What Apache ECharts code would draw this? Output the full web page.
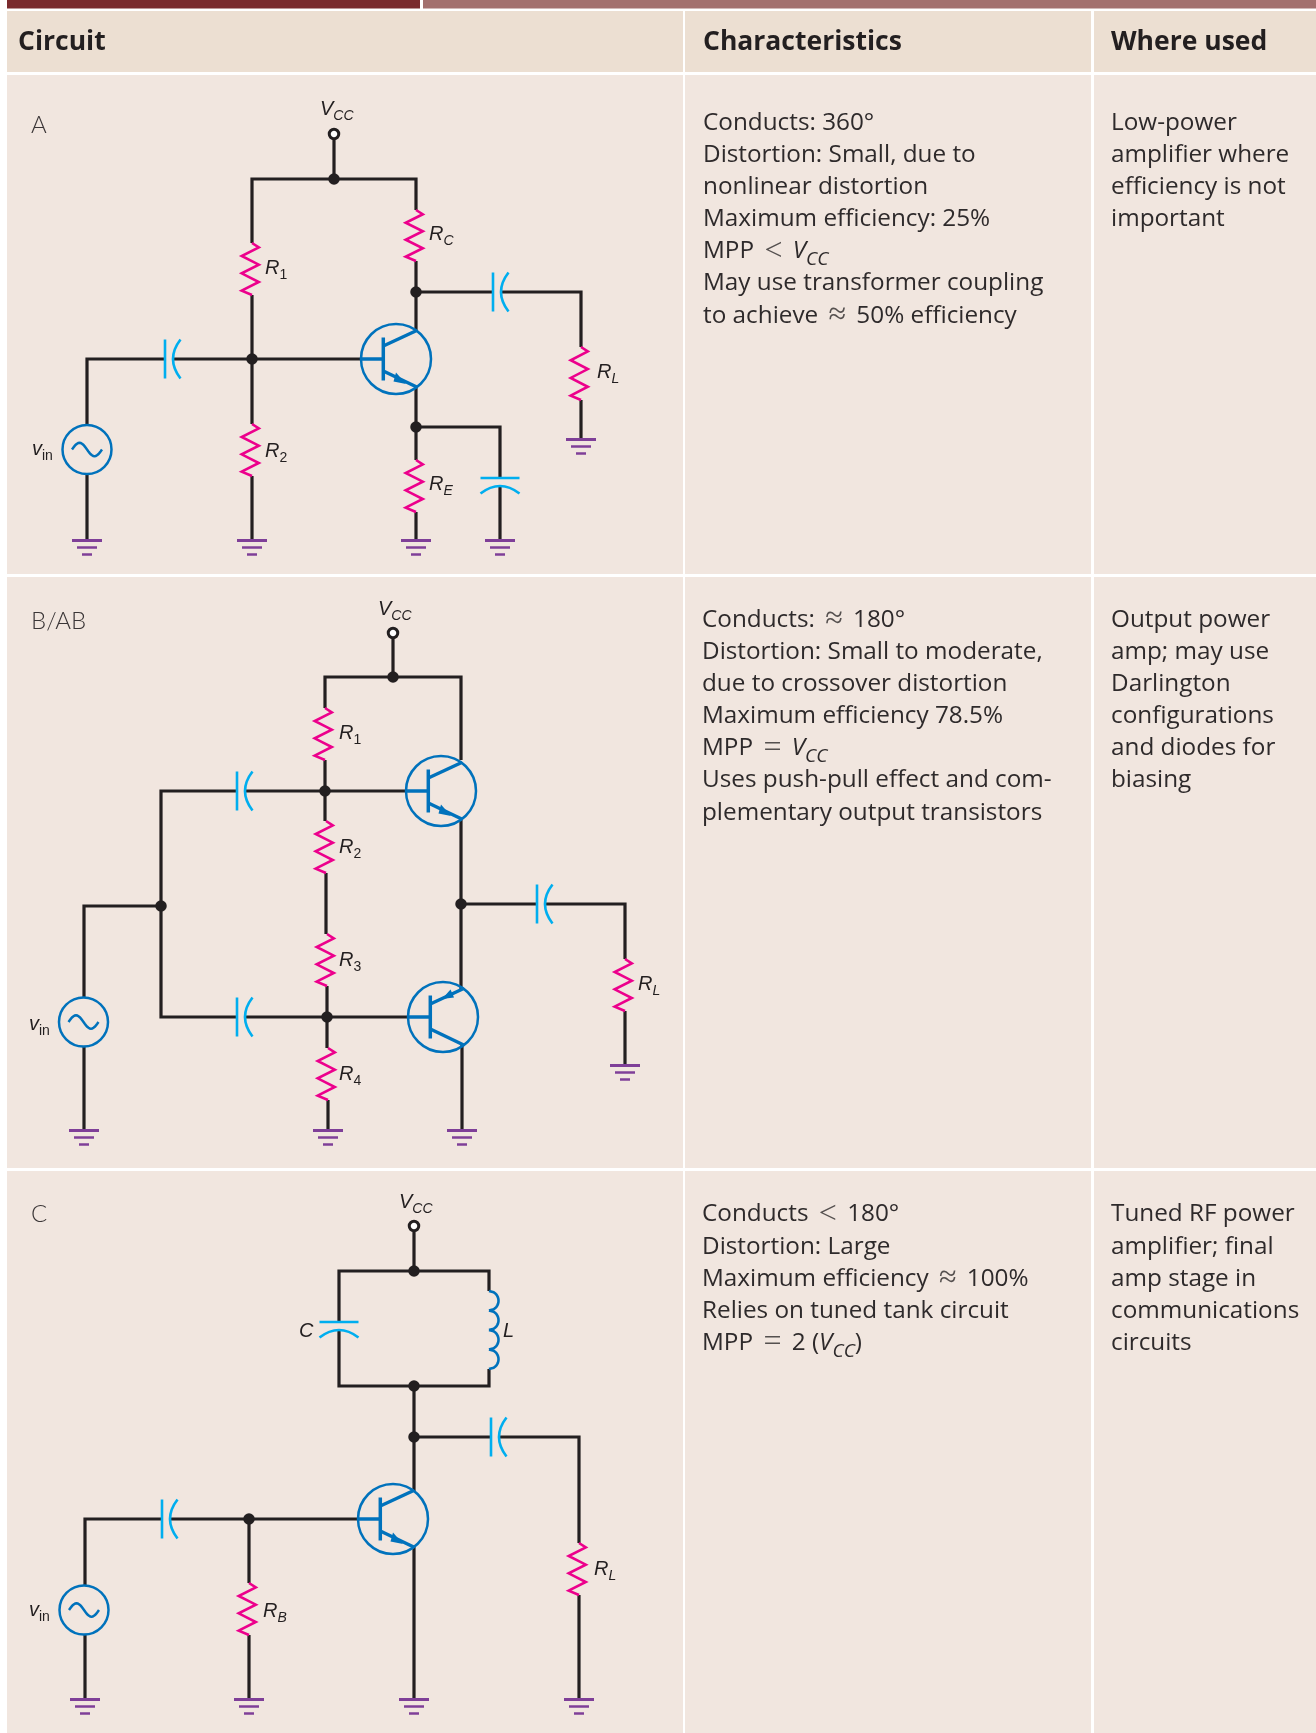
<!DOCTYPE html>
<html>
<head>
<meta charset="utf-8">
<title>Amplifier classes</title>
<script src="https://cdn.jsdelivr.net/npm/echarts@6/dist/echarts.min.js"></script>
<style>
html,body{margin:0;padding:0;background:#fff;}
#main{width:1316px;height:1733px;}
</style>
</head>
<body>
<div id="main"></div>
<script>
// table cells: x0,y0,x1,y1
var barCells = [[7,0,420,8.5],[423,0,1316,8.5]];
var headerCells = [[7,11,683,72],[685,11,1091,72],[1094,11,1316,72]];
var bodyCells = [
    [7,75,683,574],[685,75,1091,574],[1094,75,1316,574],
    [7,577,683,1168],[685,577,1091,1168],[1094,577,1316,1168],
    [7,1171,683,1733],[685,1171,1091,1733],[1094,1171,1316,1733]
];

// table text
var headers = [['Circuit',18,42.5],['Characteristics',703,42.5],['Where used',1111,42.5]];
var classes = [['A',31,125],['B/AB',31,621],['C',31,1214]];
var charA = ['Conducts: 360°','Distortion: Small, due to','nonlinear distortion','Maximum efficiency: 25%','MPP {m|<} {i|V}{s|CC}','May use transformer coupling','to achieve {m|≈} 50% efficiency'];
var usedA = ['Low-power','amplifier where','efficiency is not','important'];
var charB = ['Conducts: {m|≈} 180°','Distortion: Small to moderate,','due to crossover distortion','Maximum efficiency 78.5%','MPP {m|=} {i|V}{s|CC}','Uses push-pull effect and com-','plementary output transistors'];
var usedB = ['Output power','amp; may use','Darlington','configurations','and diodes for','biasing'];
var charC = ['Conducts {m|<} 180°','Distortion: Large','Maximum efficiency {m|≈} 100%','Relies on tuned tank circuit','MPP {m|=} 2 ({i|V}{s|CC})'];
var usedC = ['Tuned RF power','amplifier; final','amp stage in','communications','circuits'];

// circuit labels
var partLabels = [
    ['{r|V}{u|CC}',320,109.5],['{r|R}{n|1}',265,268],['{r|R}{u|C}',429,234],['{r|R}{u|L}',597,372.5],['{r|R}{n|2}',265,451],['{r|R}{u|E}',429,484.5],['{r|v}{n|in}',32,449],
    ['{r|V}{u|CC}',378,609],['{r|R}{n|1}',339,733],['{r|R}{n|2}',339,847],['{r|R}{n|3}',339,960],['{r|R}{n|4}',339,1074],['{r|R}{u|L}',638,984],['{r|v}{n|in}',29,1024],
    ['{r|V}{u|CC}',399,1202],['{r|C}',299,1331],['{r|L}',503,1331],['{r|R}{u|L}',594,1569],['{r|R}{u|B}',263,1611],['{r|v}{n|in}',29,1610]
];

// wires, each one a polyline
var wires = [
    // A
    [[334,134],[334,179]],
    [[252,243],[252,179],[416,179],[416,210]],
    [[252,295],[252,424]],[[252,476],[252,540]],
    [[416,261],[416,331]],[[416,387],[416,460]],[[416,512],[416,540]],
    [[416,292],[493,292]],[[501,292],[581,292],[581,347]],[[581,400],[581,439]],
    [[87,425],[87,359],[165,359]],[[173,359],[361,359]],[[87,474],[87,540]],
    [[416,427],[500,427],[500,478]],[[500,486],[500,540]],
    // B/AB
    [[393,638],[393,677]],
    [[325,708],[325,677],[461,677],[461,760]],
    [[325,760],[325,821]],[[326,873],[326,934]],[[327,986],[327,1048]],[[328,1100],[328,1130]],
    [[237,791],[161,791],[161,1017],[237,1017]],[[245,791],[406,791]],[[245,1017],[408,1017]],
    [[161,906],[84,906],[84,998]],[[84,1047],[84,1130]],
    [[461,820],[461,990]],[[462,1045],[462,1130]],
    [[461,904],[537,904]],[[545,904],[625,904],[625,959]],[[625,1011],[625,1065]],
    // C
    [[414,1232],[414,1271]],
    [[339,1322],[339,1271],[489,1271],[489,1291]],
    [[339,1329],[339,1386],[489,1386],[489,1369]],
    [[414,1386],[414,1491]],[[414,1547],[414,1699]],
    [[414,1437],[491,1437]],[[499,1437],[579,1437],[579,1543]],[[579,1595],[579,1699]],
    [[85,1585],[85,1519],[162,1519]],[[170,1519],[358,1519]],[[85,1634],[85,1699]],
    [[249,1519],[249,1583]],[[249,1635],[249,1699]]
];

var junctions = [
    [334,179],[416,292],[252,359],[416,427],
    [393,677],[325,791],[161,906],[461,904],[327,1017],
    [414,1271],[414,1386],[414,1437],[249,1519]
];
var terminals = [[334,134],[393,633],[414,1226]];

// x, top, bottom
var resistors = [
    [252,243,295],[416,210,261],[581,347,400],[252,424,476],[416,460,512],
    [325,708,760],[326,821,873],[327,934,986],[328,1048,1100],[625,959,1011],
    [579,1543,1595],[249,1583,1635]
];
// plate x, wire y
var capsAcross = [[165,359],[493,292],[237,791],[237,1017],[537,904],[162,1519],[491,1437]];
// wire x, plate y
var capsDown = [[500,478],[339,1322]];
// x, y of the top rail
var grounds = [[87,540],[252,540],[416,540],[500,540],[581,439],
    [84,1130],[328,1130],[462,1130],[625,1065],
    [85,1699],[249,1699],[414,1699],[579,1699]];
// centre x, centre y, npn or pnp
var transistors = [[396,359,'npn'],[441,791,'npn'],[443,1017,'pnp'],[393,1519,'npn']];
var sources = [[87,449.5],[83.5,1022],[84,1610]];
var inductors = [[489,1291,1369]];

var WIRE = '#231f20', PINK = '#ec008c', CYAN = '#00aeef', BLUE = '#0072bc', PURPLE = '#7f3f98';
var TEXT = '#2e2a2b';

function line(api, pts, color, w){
    return {type:'polyline', shape:{points:pts.map(function(p){return api.coord(p);})},
        style:{stroke:color, lineWidth:w, fill:null, lineJoin:'miter'}};
}
function curve(api, a, c, b, color, w){
    var p0 = api.coord(a), p1 = api.coord(b), cp = api.coord(c);
    return {type:'bezierCurve', shape:{x1:p0[0],y1:p0[1],x2:p1[0],y2:p1[1],cpx1:cp[0],cpy1:cp[1]},
        style:{stroke:color, lineWidth:w, fill:null}};
}
function customSeries(rows, draw){
    return {type:'custom', coordinateSystem:'cartesian2d', silent:true, clip:false,
        data:rows.map(function(r,i){return [r[0],r[1],i];}),
        renderItem:function(params, api){
            return {type:'group', children:draw(rows[params.dataIndex], api)};
        }};
}
function rectSeries(rows, color){
    return customSeries(rows, function(r, api){
        var a = api.coord([r[0],r[1]]), b = api.coord([r[2],r[3]]);
        return [{type:'rect', shape:{x:a[0],y:a[1],width:b[0]-a[0],height:b[1]-a[1]}, style:{fill:color}}];
    });
}
function textSeries(rows, labelStyle){
    return {type:'scatter', symbolSize:0, silent:true, itemStyle:{opacity:1},
        data:rows.map(function(r){return {value:[r[1],r[2]], name:r[0]};}),
        label:Object.assign({show:true, position:'right', distance:0,
            formatter:function(p){return p.name;}}, labelStyle)};
}
// stacks lines of a cell from the first line centre
function cellLines(list, x, y){
    var rows = [];
    for(var i in list){
        rows.push([list[i], x, y + i*32.1]);
    }
    return rows;
}

var bodyRows = [].concat(
    cellLines(charA,703,123), cellLines(usedA,1111,123),
    cellLines(charB,702,620), cellLines(usedB,1111,620),
    cellLines(charC,702,1214.5), cellLines(usedC,1111,1214.5)
);

var BODY_FONT = 'Open Sans';
var bodyStyle = {fontFamily:BODY_FONT, fontSize:24.3, color:TEXT,
    rich:{
        m:{fontFamily:'Liberation Serif', fontSize:32, color:'#55504f', padding:[0,4,0,4]},
        i:{fontFamily:BODY_FONT, fontStyle:'italic', fontSize:24.3, color:TEXT},
        s:{fontFamily:BODY_FONT, fontStyle:'italic', fontSize:19, color:TEXT, lineHeight:26, verticalAlign:'bottom', padding:[0,0,-2,0]}
    }};
var partStyle = {fontFamily:'Liberation Sans', fontSize:20, color:WIRE,
    rich:{
        r:{fontFamily:'Liberation Sans', fontStyle:'italic', fontSize:20, color:WIRE},
        u:{fontFamily:'Liberation Sans', fontStyle:'italic', fontSize:14, color:WIRE, lineHeight:20, verticalAlign:'bottom', padding:[0,0,-4,0]},
        n:{fontFamily:'Liberation Sans', fontSize:14, color:WIRE, lineHeight:20, verticalAlign:'bottom', padding:[0,0,-4,0]}
    }};

var series = [
    rectSeries(barCells.slice(0,1), '#7a2a2d'),
    rectSeries(barCells.slice(1), '#a3706e'),
    rectSeries(headerCells, '#ecdfd2'),
    rectSeries(bodyCells, '#f1e6df'),
    customSeries(wires, function(r, api){ return [line(api, r, WIRE, 3.2)]; }),
    customSeries(resistors, function(r, api){
        var x = r[0], t = r[1], h = r[2]-r[1], right = x+6.8, left = x-10.3;
        return [line(api, [[x,t],[right,t+h/12],[left,t+h*3/12],[right,t+h*5/12],[left,t+h*7/12],[right,t+h*9/12],[left,t+h*11/12],[x,t+h]], PINK, 2.6)];
    }),
    customSeries(capsAcross, function(r, api){
        var x = r[0], y = r[1];
        return [line(api, [[x,y-19.5],[x,y+19.5]], CYAN, 2.6),
            curve(api, [x+15.5,y-19.5], [x+0.5,y], [x+15.5,y+19.5], CYAN, 2.6)];
    }),
    customSeries(capsDown, function(r, api){
        var x = r[0], y = r[1];
        return [line(api, [[x-19.5,y],[x+19.5,y]], CYAN, 2.6),
            curve(api, [x-19.5,y+15.5], [x,y+0.5], [x+19.5,y+15.5], CYAN, 2.6)];
    }),
    customSeries(grounds, function(r, api){
        var x = r[0], y = r[1];
        return [line(api, [[x-15,y+0.5],[x+15,y+0.5]], PURPLE, 3),
            line(api, [[x-10,y+7.5],[x+10,y+7.5]], PURPLE, 2.5),
            line(api, [[x-5,y+14.5],[x+5,y+14.5]], PURPLE, 2.5)];
    }),
    customSeries(transistors, function(r, api){
        var x = r[0], y = r[1], c = api.coord([x,y]);
        var out = [{type:'circle', shape:{cx:c[0],cy:c[1],r:35}, style:{stroke:BLUE, lineWidth:2.5, fill:null}},
            line(api, [[x-35,y],[x-12.7,y]], BLUE, 3.5),
            line(api, [[x-12.7,y-21.5],[x-12.7,y+21.5]], BLUE, 3.5),
            line(api, [[x-12.7,y-13],[x+20.7,y-28.5]], BLUE, 3.5),
            line(api, [[x-12.7,y+12],[x+20.7,y+28]], BLUE, 3.5)];
        var head = r[2] == 'npn' ? [[x+10,y+25],[x,y+13.5],[x-2.5,y+22.5]] : [[x-1,y-18],[x+7.5,y-27.5],[x+11,y-19.5]];
        out.push({type:'polygon', shape:{points:head.map(function(p){return api.coord(p);})}, style:{fill:BLUE}});
        return out;
    }),
    customSeries(sources, function(r, api){
        var x = r[0], y = r[1], c = api.coord([x,y]);
        var wave = [];
        for(var i=0;i<=24;i++){
            wave.push([x-15+30*i/24, y-6.7*Math.sin(i/24*2*Math.PI)]);
        }
        return [{type:'circle', shape:{cx:c[0],cy:c[1],r:24.5}, style:{stroke:BLUE, lineWidth:2.5, fill:null}},
            line(api, wave, BLUE, 2.5)];
    }),
    customSeries(inductors, function(r, api){
        var x = r[0], t = r[1], h = r[2]-r[1], out = [];
        for(var k=0;k<4;k++){
            var bump = [];
            for(var i=0;i<=16;i++){
                var s = 2*i/16-1;
                bump.push([x+9.5*Math.sqrt(1-s*s), t+h*(k+i/16)/4]);
            }
            out.push(line(api, bump, BLUE, 2.6));
        }
        return out;
    }),
    {type:'scatter', silent:true, symbol:'circle', symbolSize:11.5, itemStyle:{color:WIRE, opacity:1}, data:junctions},
    {type:'scatter', silent:true, symbol:'circle', symbolSize:9.5, itemStyle:{color:'#fff', borderColor:WIRE, borderWidth:3, opacity:1}, data:terminals},
    textSeries(headers, {fontFamily:BODY_FONT, fontWeight:'bold', fontSize:26.5, color:WIRE}),
    textSeries(classes, {fontFamily:'Lato', fontWeight:300, fontSize:24, color:'#3b3637'}),
    textSeries(bodyRows, bodyStyle),
    textSeries(partLabels, partStyle)
];

var chart = echarts.init(document.getElementById('main'), null, {renderer:'canvas'});
chart.setOption({
    animation:false,
    tooltip:{show:false},
    grid:{left:0,right:0,top:0,bottom:0},
    xAxis:{type:'value',min:0,max:1316,show:false},
    yAxis:{type:'value',min:0,max:1733,inverse:true,show:false},
    series:series
});
</script>
</body>
</html>
